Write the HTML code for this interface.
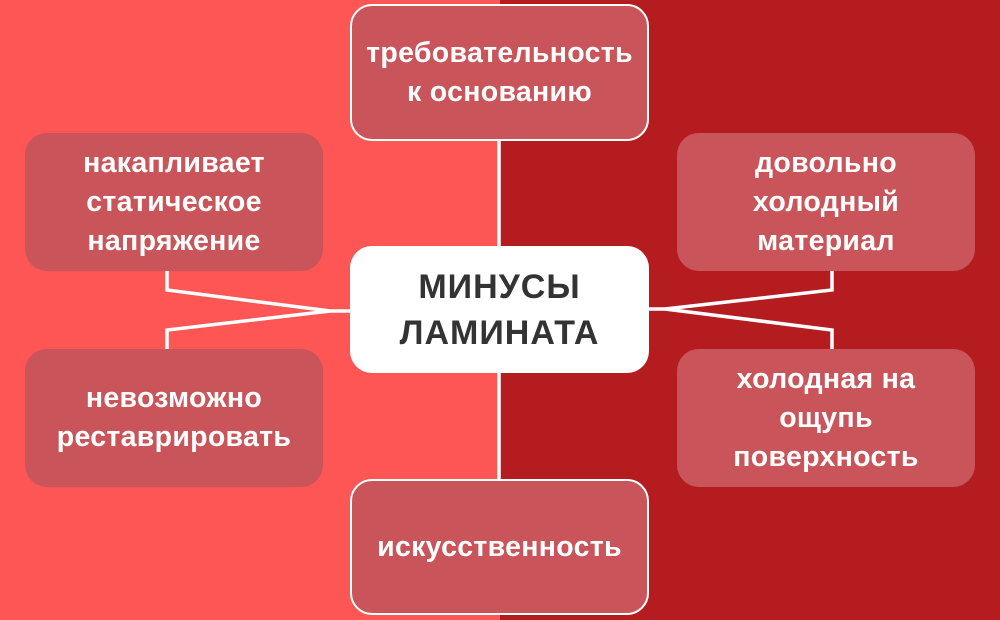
<!DOCTYPE html>
<html><head><meta charset="utf-8"><style>
body{margin:0;width:1000px;height:620px;overflow:hidden;position:relative;font-family:"Liberation Sans",sans-serif;}
.bgl{position:absolute;left:0;top:0;width:500px;height:620px;background:#fd5655}
.bgr{position:absolute;left:500px;top:0;width:500px;height:620px;background:#b51c20}
.b{position:absolute;box-sizing:border-box;background:#c9555a;border-radius:22px;color:#fff;font-weight:bold;font-size:28.5px;line-height:39px;display:flex;align-items:center;justify-content:center;text-align:center;letter-spacing:0.3px}
.w{border:2.5px solid #fff}
svg{position:absolute;left:0;top:0}
</style></head><body>
<div class="bgl"></div><div class="bgr"></div>
<svg width="1000" height="620"><g stroke="#fff" stroke-width="3.5" fill="none">
<line x1="499" y1="140" x2="499" y2="246"/>
<line x1="499" y1="372" x2="499" y2="480"/>
<polyline points="167,270 167,290 330,311 350,311"/>
<polyline points="167,349 167,330 330,311"/>
<polyline points="832,270 832,290 665,309 648,309"/>
<polyline points="832,349 832,330 665,309"/>
</g></svg>
<div class="b w" style="left:350px;top:4px;width:299px;height:137px">требовательность<br>к основанию</div>
<div class="b w" style="left:350px;top:479px;width:299px;height:136px">искусственность</div>
<div class="b" style="left:25px;top:133px;width:298px;height:138px">накапливает<br>статическое<br>напряжение</div>
<div class="b" style="left:25px;top:349px;width:298px;height:138px">невозможно<br>реставрировать</div>
<div class="b" style="left:677px;top:133px;width:298px;height:138px">довольно<br>холодный<br>материал</div>
<div class="b" style="left:677px;top:349px;width:298px;height:138px">холодная на<br>ощупь<br>поверхность</div>
<div class="b" style="left:350px;top:246px;width:299px;height:127px;background:#fff;color:#333;font-size:34px;line-height:46px;letter-spacing:1px">МИНУСЫ<br>ЛАМИНАТА</div>
</body></html>
